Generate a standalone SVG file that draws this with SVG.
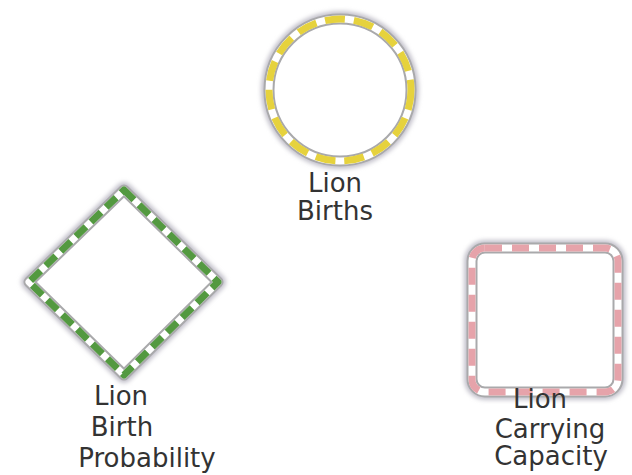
<svg xmlns="http://www.w3.org/2000/svg" width="632" height="475" viewBox="0 0 632 475">
<defs>
<filter id="soft" x="-20%" y="-20%" width="140%" height="140%">
<feGaussianBlur stdDeviation="2.2"/>
</filter>
<filter id="blur1" x="-10%" y="-10%" width="120%" height="120%">
<feGaussianBlur stdDeviation="0.6"/>
</filter>
</defs>
<style>
.halo{fill:none;stroke:#c4c2cc;stroke-width:16;stroke-linejoin:round;filter:url(#soft)}
.edge{fill:#ffffff;stroke:#a9a9ab;stroke-width:11;stroke-linejoin:round}
.band{fill:none;stroke:#ffffff;stroke-width:7;stroke-linejoin:round}
.dash{fill:none;stroke-width:7;stroke-linejoin:round;filter:url(#blur1)}
.lbl{font-family:"DejaVu Sans","Liberation Sans",sans-serif;font-size:26px;fill:#333333;text-anchor:middle}
</style>
<rect width="632" height="475" fill="#ffffff"/>
<g id="connectors"></g>
<g id="lion-births">
<circle class="halo" cx="340" cy="90" r="71"/>
<circle class="edge" cx="340" cy="90" r="71"/>
<circle class="band" cx="340" cy="90" r="71"/>
<circle class="dash" cx="340" cy="90" r="71" stroke="#e6d23c" stroke-dasharray="20 9"/>
<text class="lbl" x="335" y="192">Lion</text>
<text class="lbl" x="335" y="220">Births</text>
</g>
<g id="lion-birth-probability">
<path class="halo" d="M124,190 L218,282 L124,375 L29,282 Z"/>
<path class="edge" d="M124,190 L218,282 L124,375 L29,282 Z"/>
<path class="band" d="M124,190 L218,282 L124,375 L29,282 Z"/>
<path class="dash" d="M124,190 L218,282 L124,375 L29,282 Z" stroke="#52993f" stroke-dasharray="14 7"/>
<text class="lbl" x="121" y="405">Lion</text>
<text class="lbl" x="122" y="436">Birth</text>
<text class="lbl" x="147" y="467">Probability</text>
</g>
<g id="lion-carrying-capacity">
<rect class="halo" x="472" y="248" width="146" height="144" rx="13"/>
<rect class="edge" x="472" y="248" width="146" height="144" rx="13"/>
<rect class="band" x="472" y="248" width="146" height="144" rx="13"/>
<rect class="dash" x="472" y="248" width="146" height="144" rx="13" stroke="#e6a3aa" stroke-dasharray="17 10"/>
<text class="lbl" x="540" y="408">Lion</text>
<text class="lbl" x="550" y="438">Carrying</text>
<text class="lbl" x="551" y="465">Capacity</text>
</g>
</svg>
